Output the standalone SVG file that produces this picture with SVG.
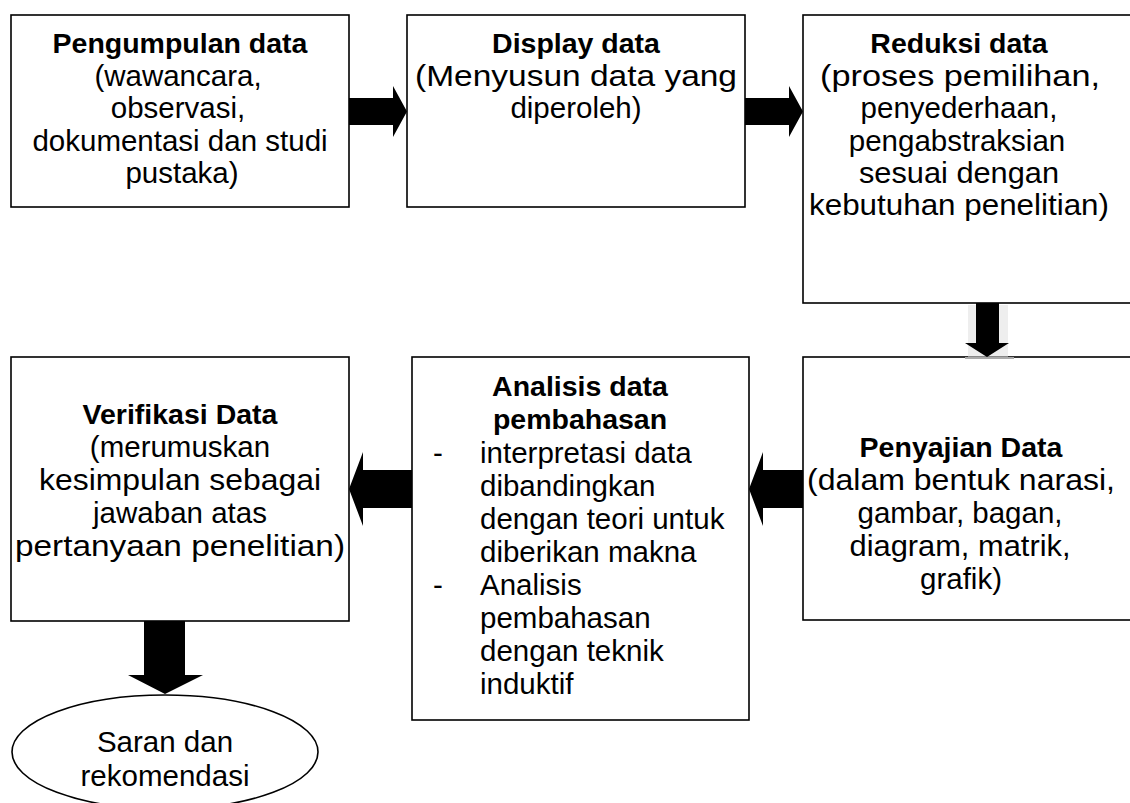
<svg xmlns="http://www.w3.org/2000/svg" width="1130" height="803" viewBox="0 0 1130 803">
<style>
.box{fill:#fff;stroke:#000;stroke-width:1.6}
text{font-family:"Liberation Sans",Arial,sans-serif;font-size:29.5px;fill:#000}
.c{text-anchor:middle}
.b{font-weight:bold;font-size:28.5px}
.arr{fill:#000;stroke:none}
</style>
<rect width="1130" height="803" fill="#fff"/>
<g id="n1">
<rect class="box" x="11" y="15" width="338" height="192"/>
<text class="c b" x="180" y="53">Pengumpulan data</text>
<text class="c" x="178" y="86">(wawancara,</text>
<text class="c" x="178" y="118">observasi,</text>
<text class="c" x="180" y="151">dokumentasi dan studi</text>
<text class="c" x="182" y="183">pustaka)</text>
</g>
<g id="n2">
<rect class="box" x="407" y="15" width="338" height="192"/>
<text class="c b" x="576" y="53">Display data</text>
<text class="c" x="576" y="86" textLength="322" lengthAdjust="spacingAndGlyphs">(Menyusun data yang</text>
<text class="c" x="576" y="118">diperoleh)</text>
</g>
<g id="n3">
<rect class="box" x="803" y="15" width="340" height="288"/>
<text class="c b" x="959" y="53">Reduksi data</text>
<text class="c" x="960" y="86" textLength="280" lengthAdjust="spacingAndGlyphs">(proses pemilihan,</text>
<text class="c" x="959" y="118">penyederhaan,</text>
<text class="c" x="957" y="151">pengabstraksian</text>
<text class="c" x="959" y="183" textLength="200" lengthAdjust="spacingAndGlyphs">sesuai dengan</text>
<text class="c" x="959" y="215" textLength="300" lengthAdjust="spacingAndGlyphs">kebutuhan penelitian)</text>
</g>
<g id="n4">
<rect class="box" x="803" y="357" width="340" height="263"/>
<text class="c b" x="961" y="457">Penyajian Data</text>
<text class="c" x="961" y="490" textLength="308" lengthAdjust="spacingAndGlyphs">(dalam bentuk narasi,</text>
<text class="c" x="960" y="523">gambar, bagan,</text>
<text class="c" x="960" y="556" textLength="221" lengthAdjust="spacingAndGlyphs">diagram, matrik,</text>
<text class="c" x="961" y="589">grafik)</text>
</g>
<g id="n5">
<rect class="box" x="412" y="357" width="337" height="363"/>
<text class="c b" x="580" y="396">Analisis data</text>
<text class="c b" x="580" y="429">pembahasan</text>
<text x="433" y="463">-</text>
<text x="480" y="463">interpretasi data</text>
<text x="480" y="496">dibandingkan</text>
<text x="480" y="529">dengan teori untuk</text>
<text x="480" y="562">diberikan makna</text>
<text x="433" y="595">-</text>
<text x="480" y="595">Analisis</text>
<text x="480" y="628">pembahasan</text>
<text x="480" y="661">dengan teknik</text>
<text x="480" y="694">induktif</text>
</g>
<g id="n6">
<rect class="box" x="11" y="357" width="338" height="264"/>
<text class="c b" x="180" y="424">Verifikasi Data</text>
<text class="c" x="180" y="457">(merumuskan</text>
<text class="c" x="180" y="490" textLength="282" lengthAdjust="spacingAndGlyphs">kesimpulan sebagai</text>
<text class="c" x="180" y="523">jawaban atas</text>
<text class="c" x="180" y="556" textLength="330" lengthAdjust="spacingAndGlyphs">pertanyaan penelitian)</text>
</g>
<g id="n7">
<ellipse cx="165" cy="752" rx="153" ry="57" fill="#fff" stroke="#000" stroke-width="1.6"/>
<text class="c" x="165" y="752">Saran dan</text>
<text class="c" x="165" y="786">rekomendasi</text>
</g>
<g id="connectors">
<polygon class="arr" points="349,98 393,98 393,86 407,111.5 393,137 393,125 349,125"/>
<polygon class="arr" points="745,98 789,98 789,86 803,111.5 789,137 789,125 745,125"/>
<rect x="968" y="305" width="40" height="52" fill="#ddd" opacity="0.5"/>
<line x1="965" y1="358" x2="1014" y2="358" stroke="#aaa" stroke-width="2"/>
<polygon class="arr" points="976,303 999,303 999,343 1009,343 987,357 965,343 976,343"/>
<polygon class="arr" points="803,470 763,470 763,452 749,489 763,526 763,508 803,508"/>
<polygon class="arr" points="412,470 363,470 363,452 349,489 363,526 363,508 412,508"/>
<polygon class="arr" points="144,621 185,621 185,675 203,675 165,694 128,675 144,675"/>
</g>
</svg>
